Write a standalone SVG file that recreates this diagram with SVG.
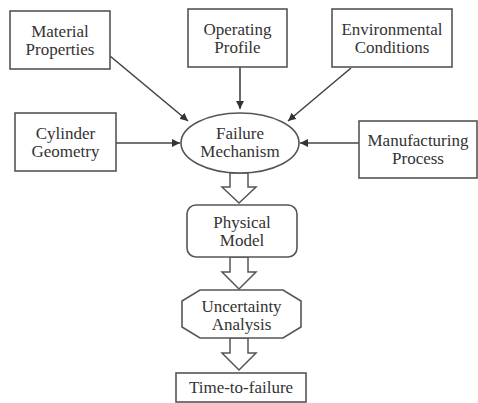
<svg xmlns="http://www.w3.org/2000/svg" width="478" height="403" viewBox="0 0 478 403">
<defs>
<style>
.b{fill:#fff;stroke:#555;stroke-width:1.6}
.t{font-family:"Liberation Serif","Times New Roman",serif;font-size:17px;fill:#333;text-anchor:middle}
.c{stroke:#444;stroke-width:1.6;fill:none}
.h{fill:#fff;stroke:#555;stroke-width:1.5;stroke-linejoin:miter}
</style>
<marker id="a" viewBox="0 0 10 10" refX="10" refY="5" markerWidth="8" markerHeight="8" orient="auto" markerUnits="userSpaceOnUse">
<path d="M0,0 L10,5 L0,10 Z" fill="#333"/>
</marker>
</defs>
<rect width="478" height="403" fill="#fff"/>
<g id="connectors">
<line class="c" x1="110" y1="56" x2="188" y2="121" marker-end="url(#a)"/>
<line class="c" x1="240" y1="67" x2="240" y2="109" marker-end="url(#a)"/>
<line class="c" x1="351" y1="68" x2="288" y2="121" marker-end="url(#a)"/>
<line class="c" x1="116" y1="143" x2="180" y2="143" marker-end="url(#a)"/>
<line class="c" x1="359" y1="143" x2="300" y2="143" marker-end="url(#a)"/>
<path class="h" d="M230,173 L248,173 L248,187 L256,187 L239,203 L222,187 L230,187 Z"/>
<path class="h" d="M230,257 L248,257 L248,272 L256,272 L239,289 L222,272 L230,272 Z"/>
<path class="h" d="M230,338 L248,338 L248,353 L256,353 L239,370 L222,353 L230,353 Z"/>
</g>
<g id="material">
<rect class="b" x="10" y="11" width="100" height="58"/>
<text class="t" x="60" y="37">Material</text>
<text class="t" x="60" y="55">Properties</text>
</g>
<g id="operating">
<rect class="b" x="188" y="9" width="99" height="58"/>
<text class="t" x="237.5" y="35">Operating</text>
<text class="t" x="237.5" y="53">Profile</text>
</g>
<g id="environmental">
<rect class="b" x="332" y="9" width="120" height="58"/>
<text class="t" x="392" y="35">Environmental</text>
<text class="t" x="392" y="53">Conditions</text>
</g>
<g id="cylinder">
<rect class="b" x="15" y="113" width="101" height="58"/>
<text class="t" x="65.5" y="139">Cylinder</text>
<text class="t" x="65.5" y="157">Geometry</text>
</g>
<g id="failure">
<ellipse class="b" cx="240" cy="143" rx="59" ry="30"/>
<text class="t" x="240" y="139">Failure</text>
<text class="t" x="240" y="157">Mechanism</text>
</g>
<g id="manufacturing">
<rect class="b" x="359" y="121" width="118" height="57"/>
<text class="t" x="418" y="146">Manufacturing</text>
<text class="t" x="418" y="164">Process</text>
</g>
<g id="physical">
<rect class="b" x="187" y="205" width="110" height="52" rx="9"/>
<text class="t" x="242" y="228">Physical</text>
<text class="t" x="242" y="246">Model</text>
</g>
<g id="uncertainty">
<polygon class="b" points="200,290 283,290 301,301 301,327 283,338 200,338 182,327 182,301"/>
<text class="t" x="241.5" y="312">Uncertainty</text>
<text class="t" x="241.5" y="330">Analysis</text>
</g>
<g id="time">
<rect class="b" x="176" y="373" width="130" height="29"/>
<text class="t" x="241" y="393">Time-to-failure</text>
</g>
</svg>
